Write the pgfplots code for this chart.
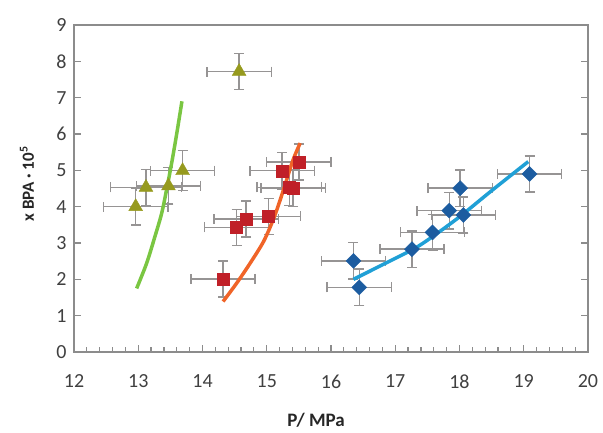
\documentclass[border=0pt]{standalone}
\usepackage{pgfplots}
\pgfplotsset{compat=1.18}
\usepackage{fontspec}
\setmainfont{Carlito}
\definecolor{tri}{RGB}{150,154,30}
\definecolor{gline}{RGB}{122,198,66}
\definecolor{sq}{RGB}{192,32,40}
\definecolor{oline}{RGB}{240,100,40}
\definecolor{dia}{RGB}{28,92,160}
\definecolor{bline}{RGB}{32,160,214}
\definecolor{errg}{RGB}{150,148,148}
\definecolor{axg}{RGB}{140,140,140}
\definecolor{txt}{RGB}{64,64,64}
\pgfplotstableread{
x y ex ey
12.96 4.00 0.50 0.50
13.12 4.53 0.55 0.50
13.47 4.57 0.50 0.50
13.69 4.99 0.50 0.55
14.57 7.72 0.50 0.49
}\tri
\pgfplotstableread{
x y ex ey
14.32 2.01 0.50 0.50
14.53 3.43 0.50 0.50
14.68 3.66 0.50 0.50
15.03 3.73 0.50 0.50
15.24 4.99 0.50 0.50
15.35 4.53 0.50 0.50
15.41 4.51 0.50 0.50
15.50 5.23 0.50 0.50
}\sqr
\pgfplotstableread{
x y ex ey
16.35 2.51 0.50 0.50
16.44 1.78 0.50 0.50
17.26 2.83 0.50 0.50
17.58 3.29 0.50 0.50
17.84 3.89 0.50 0.50
18.06 3.77 0.50 0.50
18.01 4.51 0.50 0.50
19.09 4.90 0.50 0.50
}\dia
\pgfplotsset{
  errb/.style={draw=none, no marks, forget plot,
    error bars/.cd, x dir=both, x explicit, y dir=both, y explicit,
    error bar style={line width=1.4pt, errg, solid},
    error mark=|,
    error mark options={line width=1.4pt, errg, mark size=5pt}},
}
\begin{document}
\begin{tikzpicture}[x=1pt,y=1pt]
\useasboundingbox (0,0) rectangle (603,432);
\begin{axis}[
  at={(74pt,80pt)}, anchor=south west,
  scale only axis, width=514pt, height=327pt,
  xmin=12, xmax=20, ymin=0, ymax=9,
  xtick={12,...,20}, ytick={0,...,9},
  minor x tick num=4,
  xtick pos=bottom, ytick pos=both,
  tick align=inside,
  major tick length=7pt, minor tick length=5pt,
  axis line style={axg, line width=1.6pt},
  tick style={axg, line width=1.2pt},
  /pgf/number format/assume math mode=true,
  ticklabel style={font=\fontsize{20}{24}\selectfont, text=txt},
  xticklabel style={yshift=-19pt},
  yticklabel style={xshift=-4pt},
  xlabel={P/ MPa},
  ylabel={x BPA · 10\textsuperscript{5}},
  xlabel style={at={(axis description cs:0.471,-0.208)}, anchor=center, font=\bfseries\fontsize{19}{22}\selectfont, text=black!85},
  ylabel style={at={(axis description cs:-0.0914,0.514)}, anchor=center, font=\bfseries\fontsize{17}{20}\selectfont, text=black!85},
  clip=false,
]
% error bars first
\addplot[errb] table[x=x, y=y, x error=ex, y error=ey] {\tri};
\addplot[errb] table[x=x, y=y, x error=ex, y error=ey] {\sqr};
\addplot[errb] table[x=x, y=y, x error=ex, y error=ey] {\dia};
% green fit (under triangles)
\addplot[gline, line width=3.5pt, smooth, no marks] coordinates {
(12.975,1.75) (13.13,2.44) (13.26,3.18) (13.365,3.82) (13.44,4.46) (13.52,5.20) (13.60,6.02) (13.68,6.90)};
% markers
\addplot[only marks, mark=triangle*, mark size=8pt, mark options={fill=tri, draw=tri}]
  table[x=x, y=y] {\tri};
\addplot[only marks, mark=square*, mark size=6pt, mark options={fill=sq, draw=sq}]
  table[x=x, y=y] {\sqr};
\addplot[only marks, mark=square*, mark size=5.3pt, mark options={fill=dia, draw=dia, rotate=45}]
  table[x=x, y=y] {\dia};
% fitted lines
\addplot[oline, line width=3.5pt, smooth, no marks] coordinates {
(14.32,1.39) (14.53,1.89) (14.74,2.44) (14.95,3.04) (15.10,3.64) (15.21,4.19) (15.31,4.74) (15.41,5.29) (15.52,5.75)};
\addplot[bline, line width=3.5pt, smooth, no marks] coordinates {
(16.35,2.0) (16.8,2.4) (17.3,2.85) (17.6,3.2) (18.0,3.72) (18.5,4.44) (19.07,5.24)};
\end{axis}
\end{tikzpicture}
\end{document}
